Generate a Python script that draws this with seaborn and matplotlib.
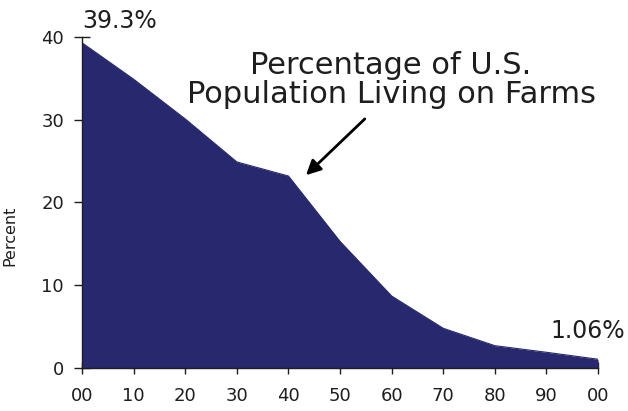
import numpy as np
import pandas as pd
import seaborn as sns
import matplotlib.pyplot as plt

years = [1900, 1910, 1920, 1930, 1940, 1950, 1960, 1970, 1980, 1990, 2000]
farm_pct = [39.3, 34.9, 30.1, 24.9, 23.2, 15.3, 8.7, 4.8, 2.7, 1.9, 1.06]
tick_years = [1900, 1910, 1920, 1930, 1940, 1950, 1960, 1970, 1980, 1990, 2000]
tick_labels = ["00", "10", "20", "30", "40", "50", "60", "70", "80", "90", "00"]
y_ticks = [0, 10, 20, 30, 40]

fill_color = "#27286e"
ink = "#1e1e1e"

sns.set_style("ticks")
plt.rcParams["font.family"] = ["DejaVu Sans"]

df = pd.DataFrame({"year": years, "pct": farm_pct})

fig = plt.figure(figsize=(6.28, 4.11), dpi=100)
ax = fig.add_axes([0.1306, 0.1046, 0.8217, 0.8054])

# filled area under the curve
ax.fill_between(df["year"], df["pct"], 0, color=fill_color, linewidth=0, zorder=1)
sns.lineplot(data=df, x="year", y="pct", color=fill_color, linewidth=0.8, ax=ax, zorder=2)

ax.set_xlim(1900, 2000)
ax.set_ylim(0, 40)
ax.set_xticks(tick_years)
ax.set_xticklabels(tick_labels)
ax.set_yticks(y_ticks)
ax.tick_params(axis="x", direction="inout", length=8, width=1, labelsize=13, pad=10, color=ink)
ax.tick_params(axis="y", direction="inout", length=12, width=1, labelsize=13, pad=7, color=ink)
for t in ax.get_xticklabels() + ax.get_yticklabels():
    t.set_color(ink)

sns.despine(ax=ax)
for s in ["left", "bottom"]:
    ax.spines[s].set_color(ink)
    ax.spines[s].set_linewidth(1)
    ax.spines[s].set_zorder(3)

ax.set_xlabel("")
ax.set_ylabel("Percent", fontsize=11.5, color=ink)
ax.yaxis.set_label_coords(-0.126, 0.40)

# end-point labels
ax.text(years[0], 41.1, f"{farm_pct[0]}%", fontsize=17, ha="left", va="baseline", color=ink)
ax.text(2005.2, 3.6, f"{farm_pct[-1]}%", fontsize=17, ha="right", va="baseline", color=ink)

# title text and arrow
ax.text(1959.9, 34.8, "Percentage of U.S.\nPopulation Living on Farms",
        ha="center", va="center", fontsize=22, color=ink, linespacing=1.0)
ax.annotate("", xy=(1943.4, 23.3), xytext=(1954.8, 30.1),
            arrowprops=dict(arrowstyle="-|>", color="black", lw=2, mutation_scale=22,
                            shrinkA=0, shrinkB=0))

fig.savefig("out.png", dpi=100)
